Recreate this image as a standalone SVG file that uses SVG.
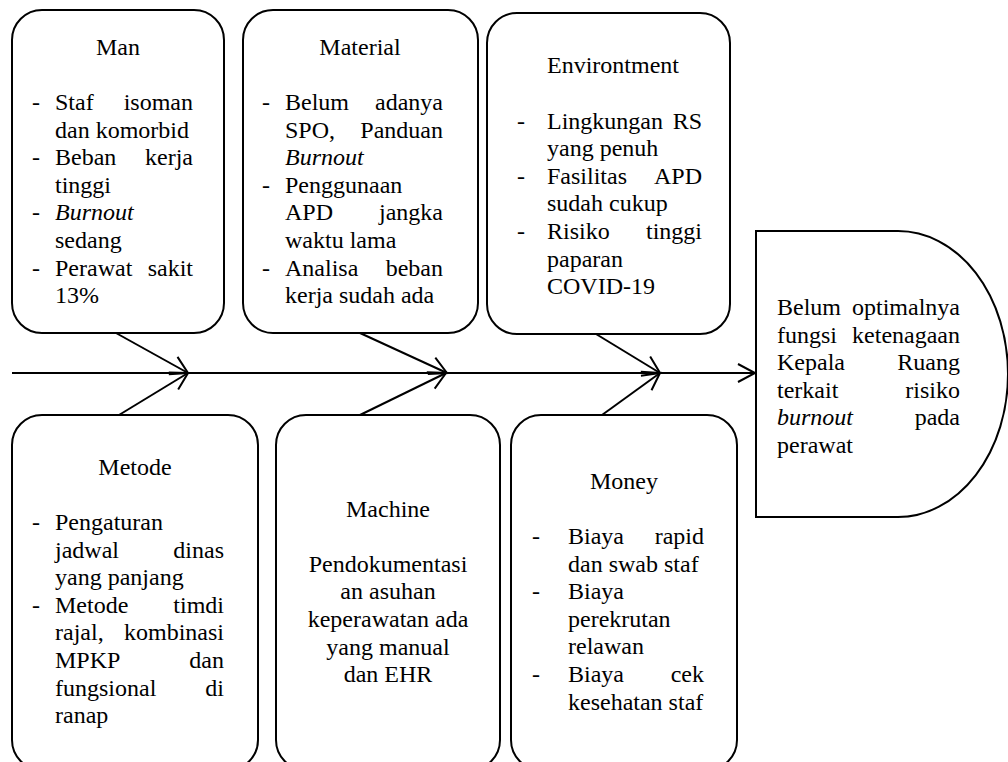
<svg xmlns="http://www.w3.org/2000/svg" width="1008" height="762" viewBox="0 0 1008 762">
<style>
  .box { fill: #fff; stroke: #000; stroke-width: 2; }
  .ln { fill: none; stroke: #000; stroke-width: 2; }
  text { font-family: "Liberation Serif", "Times New Roman", serif; font-size: 24px; fill: #000; }
  .r { text-anchor: end; }
  .c { text-anchor: middle; }
  .i { font-style: italic; }
</style>
<defs>
  <marker id="arr" markerUnits="userSpaceOnUse" markerWidth="24" markerHeight="24" viewBox="-21 -12 24 24" refX="0" refY="0" orient="auto" overflow="visible">
    <path d="M-17,-9 L0,0 L-17,9" fill="none" stroke="#000" stroke-width="2"/>
  </marker>
</defs>
<rect width="1008" height="762" fill="#fff"/>

<g id="connectors">
  <line class="ln" x1="12" y1="373" x2="755" y2="373" marker-end="url(#arr)"/>
  <line class="ln" x1="116" y1="333" x2="188" y2="373" marker-end="url(#arr)"/>
  <line class="ln" x1="119" y1="415" x2="188" y2="373" marker-end="url(#arr)"/>
  <line class="ln" x1="360" y1="333" x2="447" y2="373" marker-end="url(#arr)"/>
  <line class="ln" x1="360" y1="415" x2="446" y2="373" marker-end="url(#arr)"/>
  <line class="ln" x1="596" y1="334" x2="660" y2="373" marker-end="url(#arr)"/>
  <line class="ln" x1="602" y1="415" x2="660" y2="373" marker-end="url(#arr)"/>
</g>

<g id="man">
  <rect class="box" x="12" y="10" width="212" height="323" rx="30"/>
  <text class="c" x="118" y="55">Man</text>
  <text x="32" y="110">-</text><text x="55" y="110">Staf</text><text class="r" x="193" y="110">isoman</text>
  <text x="55" y="137.6">dan komorbid</text>
  <text x="32" y="165.2">-</text><text x="55" y="165.2">Beban</text><text class="r" x="193" y="165.2">kerja</text>
  <text x="55" y="192.8">tinggi</text>
  <text x="32" y="220.4">-</text><text class="i" x="55" y="220.4">Burnout</text>
  <text x="55" y="248">sedang</text>
  <text x="32" y="275.6">-</text><text x="55" y="275.6">Perawat</text><text class="r" x="193" y="275.6">sakit</text>
  <text x="55" y="303.2">13%</text>
</g>

<g id="material">
  <rect class="box" x="243" y="10" width="235" height="323" rx="30"/>
  <text class="c" x="360" y="55">Material</text>
  <text x="262" y="110">-</text><text x="285" y="110">Belum</text><text class="r" x="443" y="110">adanya</text>
  <text x="285" y="137.6">SPO,</text><text class="r" x="443" y="137.6">Panduan</text>
  <text class="i" x="285" y="165.2">Burnout</text>
  <text x="262" y="192.8">-</text><text x="285" y="192.8">Penggunaan</text>
  <text x="285" y="220.4">APD</text><text class="r" x="443" y="220.4">jangka</text>
  <text x="285" y="248">waktu lama</text>
  <text x="262" y="275.6">-</text><text x="285" y="275.6">Analisa</text><text class="r" x="443" y="275.6">beban</text>
  <text x="285" y="303.2">kerja sudah ada</text>
</g>

<g id="environtment">
  <rect class="box" x="487" y="13" width="243" height="321" rx="30"/>
  <text x="547" y="73">Environtment</text>
  <text x="517" y="128.5">-</text><text x="547" y="128.5">Lingkungan</text><text class="r" x="702" y="128.5">RS</text>
  <text x="547" y="156.1">yang penuh</text>
  <text x="517" y="183.7">-</text><text x="547" y="183.7">Fasilitas</text><text class="r" x="702" y="183.7">APD</text>
  <text x="547" y="211.3">sudah cukup</text>
  <text x="517" y="238.9">-</text><text x="547" y="238.9">Risiko</text><text class="r" x="702" y="238.9">tinggi</text>
  <text x="547" y="266.5">paparan</text>
  <text x="547" y="294.1">COVID-19</text>
</g>

<g id="metode">
  <rect class="box" x="12" y="415" width="246" height="355" rx="30"/>
  <text class="c" x="135" y="475">Metode</text>
  <text x="32" y="530">-</text><text x="55" y="530">Pengaturan</text>
  <text x="55" y="557.6">jadwal</text><text class="r" x="224" y="557.6">dinas</text>
  <text x="55" y="585.2">yang panjang</text>
  <text x="32" y="612.8">-</text><text x="55" y="612.8">Metode</text><text class="r" x="224" y="612.8">timdi</text>
  <text x="55" y="640.4">rajal,</text><text class="r" x="224" y="640.4">kombinasi</text>
  <text x="55" y="668">MPKP</text><text class="r" x="224" y="668">dan</text>
  <text x="55" y="695.6">fungsional</text><text class="r" x="224" y="695.6">di</text>
  <text x="55" y="723.2">ranap</text>
</g>

<g id="machine">
  <rect class="box" x="276" y="415" width="224" height="355" rx="30"/>
  <text class="c" x="388" y="516.5">Machine</text>
  <text class="c" x="388" y="571.7">Pendokumentasi</text>
  <text class="c" x="388" y="599.3">an asuhan</text>
  <text class="c" x="388" y="626.9">keperawatan ada</text>
  <text class="c" x="388" y="654.5">yang manual</text>
  <text class="c" x="388" y="682.1">dan EHR</text>
</g>

<g id="money">
  <rect class="box" x="511" y="415" width="226" height="355" rx="30"/>
  <text class="c" x="624" y="488.5">Money</text>
  <text x="532" y="544">-</text><text x="568" y="544">Biaya</text><text class="r" x="704" y="544">rapid</text>
  <text x="568" y="571.6">dan swab staf</text>
  <text x="532" y="599.2">-</text><text x="568" y="599.2">Biaya</text>
  <text x="568" y="626.8">perekrutan</text>
  <text x="568" y="654.4">relawan</text>
  <text x="532" y="682">-</text><text x="568" y="682">Biaya</text><text class="r" x="704" y="682">cek</text>
  <text x="568" y="709.6">kesehatan staf</text>
</g>

<g id="head">
  <path class="box" d="M756,231 L898,231 A110,143 0 0 1 898,517 L756,517 Z"/>
  <text x="777" y="315">Belum</text><text class="r" x="960" y="315">optimalnya</text>
  <text x="777" y="342.6">fungsi</text><text class="r" x="960" y="342.6">ketenagaan</text>
  <text x="777" y="370.2">Kepala</text><text class="r" x="960" y="370.2">Ruang</text>
  <text x="777" y="397.8">terkait</text><text class="r" x="960" y="397.8">risiko</text>
  <text class="i" x="777" y="425.4">burnout</text><text class="r" x="960" y="425.4">pada</text>
  <text x="777" y="453">perawat</text>
</g>
</svg>
